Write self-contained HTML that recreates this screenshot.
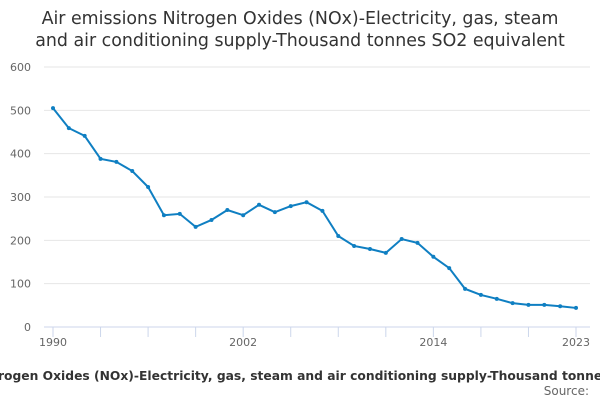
<!DOCTYPE html>
<html><head><meta charset="utf-8"><style>
body{margin:0;background:#fff;width:600px;height:400px;overflow:hidden;font-family:"DejaVu Sans","Liberation Sans",sans-serif;}
</style></head><body>
<svg id="c" width="600" height="400" xmlns="http://www.w3.org/2000/svg">
<text x="300" y="24" text-anchor="middle" font-size="17.4" fill="#333">Air emissions Nitrogen Oxides (NOx)-Electricity, gas, steam</text>
<text x="300" y="46" text-anchor="middle" font-size="17.4" fill="#333">and air conditioning supply-Thousand tonnes SO2 equivalent</text>
<g id="grid"></g><g id="xt"></g><g id="plot"></g>
<text x="300" y="380" text-anchor="middle" font-size="12.3" font-weight="bold" fill="#333">Air emissions Nitrogen Oxides (NOx)-Electricity, gas, steam and air conditioning supply-Thousand tonnes SO2 equivalent</text>
<text x="589" y="395" text-anchor="end" font-size="12" fill="#666">Source:</text>
</svg>
<script>
const years=[];for(let y=1990;y<=2023;y++)years.push(y);
const values=[505,459,441,388,381,360,323,258,261,231,247,270,258,282,265,279,288,268,210,187,180,171,203,194,162,136,88,74,65,55,51,51,48,44];
const yTicks=[0,100,200,300,400,500,600];
const xLabels=[1990,2002,2014,2023];
const NS="http://www.w3.org/2000/svg";
const x=v=>53+(v-1990)*(576-53)/33;
const y=v=>327-v*(327-67)/600;
function mk(t,a,p){const e=document.createElementNS(NS,t);for(const k in a)e.setAttribute(k,a[k]);p.appendChild(e);return e;}
const grid=document.getElementById('grid'),xt=document.getElementById('xt'),plot=document.getElementById('plot');
yTicks.forEach(v=>{
 const l=mk('line',{x1:44,x2:590,y1:y(v),y2:y(v),stroke:v==0?'#ccd6eb':'#e6e6e6','stroke-width':1},grid);
 
 
 const t=mk('text',{x:31,y:y(v)+4,'text-anchor':'end','font-size':11,fill:'#666'},grid);
 t.textContent=v;
 
 
});
for(let yr=1990;yr<=2023;yr+=3){
 const l=mk('line',{x1:x(yr),x2:x(yr),y1:327,y2:337,stroke:'#ccd6eb'},xt);
 
 
}
const l23=mk('line',{x1:x(2023),x2:x(2023),y1:327,y2:337,stroke:'#ccd6eb'},xt);


xLabels.forEach(v=>{
 const t=mk('text',{x:x(v),y:346,'text-anchor':'middle','font-size':11,fill:'#666'},xt);
 t.textContent=v;
 
 
});
const path=mk('path',{d:values.map((v,i)=>(i?'L':'M')+x(years[i])+','+y(v)).join(''),fill:'none',stroke:'#0f7fc2','stroke-width':2},plot);


values.forEach((v,i)=>{
 const c=mk('circle',{cx:x(years[i]),cy:y(v),r:2,fill:'#0f7fc2'},plot);
 
 
});
</script>
</body></html>
